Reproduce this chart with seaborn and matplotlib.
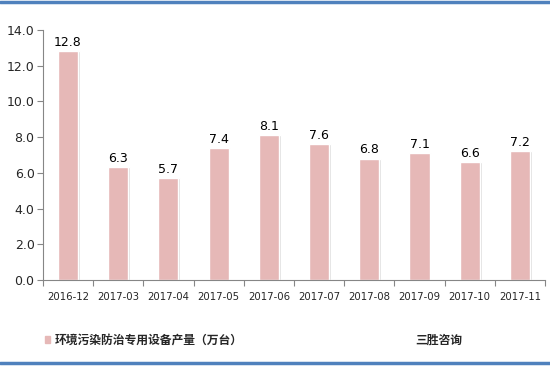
import matplotlib
matplotlib.use("Agg")
import matplotlib.pyplot as plt
import seaborn as sns
import pandas as pd
from matplotlib.lines import Line2D
from matplotlib.patches import Rectangle

categories = ["2016-12", "2017-03", "2017-04", "2017-05", "2017-06",
              "2017-07", "2017-08", "2017-09", "2017-10", "2017-11"]
values = [12.8, 6.3, 5.7, 7.4, 8.1, 7.6, 6.8, 7.1, 6.6, 7.2]
series_name = "环境污染防治专用设备产量（万台）"
source = "三胜咨询"

sns.set_theme(style="white")
plt.rcParams['font.family'] = ['Noto Sans CJK SC', 'DejaVu Sans']

df = pd.DataFrame({"month": categories, "value": values})

fig = plt.figure(figsize=(5.5, 3.66), dpi=100)
ax = fig.add_axes([0.078, 0.235, 0.913, 0.683])

bar_color = "#E6B8B7"
# shadow bars
sns.barplot(data=df, x="month", y="value", color="#DADADA", width=0.4,
            saturation=1, ax=ax, zorder=1)
for p in ax.patches:
    p.set_x(p.get_x() + 0.035)
n_shadow = len(ax.patches)
sns.barplot(data=df, x="month", y="value", color=bar_color, width=0.4,
            saturation=1, ax=ax, zorder=2)
bars = ax.patches[n_shadow:]

for b, v in zip(bars, values):
    ax.text(b.get_x() + b.get_width() / 2, v + 0.12, f"{v:.1f}",
            ha="center", va="bottom", fontsize=9, color="#000000",
            family="DejaVu Sans", zorder=3)

ax.set_ylim(0, 14)
ax.set_yticks([0, 2, 4, 6, 8, 10, 12, 14])
ax.set_yticklabels([f"{t:.1f}" for t in [0, 2, 4, 6, 8, 10, 12, 14]],
                   fontsize=9, family="DejaVu Sans")
ax.set_xlim(-0.5, len(categories) - 0.5)
ax.set_xticks(range(len(categories)))
ax.set_xticklabels(categories, fontsize=7.3, family="DejaVu Sans")
ax.tick_params(axis="x", length=0, pad=9)
ax.tick_params(axis="y", left=True, length=4, width=0.8, color="#868686", pad=2)
# category boundary ticks
ax.set_xticks([i - 0.5 for i in range(len(categories) + 1)], minor=True)
ax.tick_params(axis="x", which="minor", bottom=True, length=4, width=0.8,
               color="#868686")
ax.set_xlabel("")
ax.set_ylabel("")
for s in ["top", "right"]:
    ax.spines[s].set_visible(False)
for s in ["left", "bottom"]:
    ax.spines[s].set_color("#868686")
    ax.spines[s].set_linewidth(0.8)
ax.grid(False)

# legend
fig.add_artist(Rectangle((0.082, 1 - 343 / 366), 0.009, 0.02,
                         transform=fig.transFigure, color=bar_color))
fig.text(0.099, 1 - 340 / 366, series_name, fontsize=8.5, fontweight="bold",
         va="center", ha="left")
fig.text(0.755, 1 - 340 / 366, source, fontsize=8.5, fontweight="bold",
         va="center", ha="left")

# border lines
fig.add_artist(Line2D([0, 1], [1 - 2 / 366, 1 - 2 / 366],
                      transform=fig.transFigure, color="#4F81BD", lw=2.5))
fig.add_artist(Line2D([0, 1], [1 - 363 / 366, 1 - 363 / 366],
                      transform=fig.transFigure, color="#4F81BD", lw=2.5))

fig.savefig("out.png", dpi=100)
